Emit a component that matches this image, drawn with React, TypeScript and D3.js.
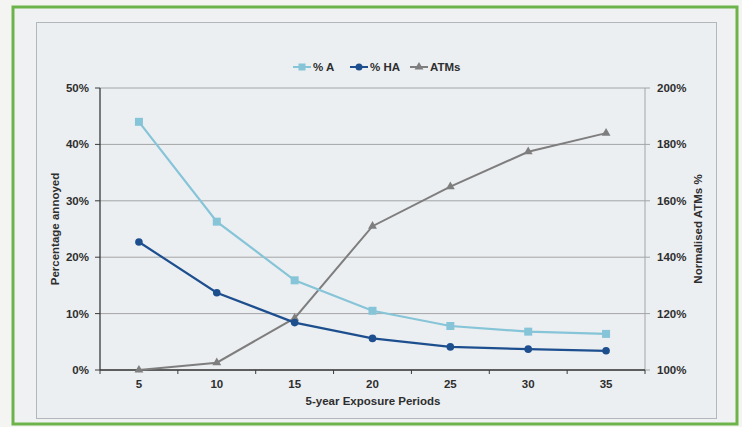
import React from "react";
import * as d3 from "d3";

const periods = ["5", "10", "15", "20", "25", "30", "35"];
const pctA = [44.0, 26.3, 15.9, 10.5, 7.8, 6.8, 6.4];
const pctHA = [22.7, 13.7, 8.4, 5.6, 4.1, 3.7, 3.4];
const atms = [100, 102.6, 118.4, 151, 165, 177.4, 184];
const leftTicks = [0, 10, 20, 30, 40, 50];
const rightTicks = [100, 120, 140, 160, 180, 200];
const seriesNames = ["% A", "% HA", "ATMs"];

const W = 742, H = 427;
const plot = { left: 100, right: 645, top: 88, bottom: 370 };
const colA = "#86c4d8", colHA = "#1d4f8f", colATM = "#7e7e7e";
const font = "'Liberation Sans', Arial, sans-serif";
const fs = 11.5;
const txt = "#2e2e2e";

export default function App() {
  const x = d3.scaleBand().domain(periods).range([plot.left, plot.right]);
  const cx = (p: string) => (x(p) as number) + x.bandwidth() / 2;
  const yL = d3.scaleLinear().domain([0, 50]).range([plot.bottom, plot.top]);
  const yR = d3.scaleLinear().domain([100, 200]).range([plot.bottom, plot.top]);
  const lineL = d3.line<number>().x((_, i) => cx(periods[i])).y((d) => yL(d));
  const lineR = d3.line<number>().x((_, i) => cx(periods[i])).y((d) => yR(d));
  const tri = d3.symbol(d3.symbolTriangle, 34)() as string;
  const boundaries = periods.map((p) => x(p) as number).concat([plot.right]);

  const legendItems = [
    { name: seriesNames[0], color: colA, kind: "sq", x: 293 },
    { name: seriesNames[1], color: colHA, kind: "ci", x: 350 },
    { name: seriesNames[2], color: colATM, kind: "tr", x: 410 },
  ];

  return (
    <div style={{ position: "absolute", left: 0, top: 0 }}>
      <svg width={W} height={H} style={{ display: "block", fontFamily: font }}>
        <rect x={0} y={0} width={W} height={H} fill="#f4f5f3" />
        <rect x={13} y={7} width={724} height={417} fill="#eff1f2" stroke="#6cb449" strokeWidth={3} />
        <rect x={36.5} y={22.5} width={680} height={396} fill="#eceff2" stroke="#b3b6ba" strokeWidth={1} />
        {/* gridlines */}
        {leftTicks.map((t) => (
          <line key={t} x1={plot.left} x2={plot.right} y1={yL(t)} y2={yL(t)} stroke="#a4a4a6" strokeWidth={1} />
        ))}
        <line x1={plot.right} x2={plot.right} y1={plot.top} y2={plot.bottom} stroke="#a4a4a6" />
        {/* left axis */}
        <line x1={plot.left} x2={plot.left} y1={plot.top} y2={plot.bottom} stroke="#3a3a3a" strokeWidth={1.3} />
        {leftTicks.map((t) => (
          <g key={t}>
            <line x1={plot.left - 5} x2={plot.left} y1={yL(t)} y2={yL(t)} stroke="#3a3a3a" />
            <text x={plot.left - 11} y={yL(t)} dy="0.35em" textAnchor="end" fontSize={fs} fontWeight="bold" fill={txt}>{t}%</text>
          </g>
        ))}
        {rightTicks.map((t) => (
          <g key={t}>
            <line x1={plot.right} x2={plot.right + 5} y1={yR(t)} y2={yR(t)} stroke="#a4a4a6" />
            <text x={plot.right + 12} y={yR(t)} dy="0.35em" textAnchor="start" fontSize={fs} fontWeight="bold" fill={txt}>{t}%</text>
          </g>
        ))}
        {/* x axis */}
        <line x1={plot.left} x2={plot.right} y1={plot.bottom} y2={plot.bottom} stroke="#3a3a3a" strokeWidth={1.3} />
        {boundaries.map((b, i) => (
          <line key={i} x1={b} x2={b} y1={plot.bottom} y2={plot.bottom + 4} stroke="#3a3a3a" />
        ))}
        {periods.map((p) => (
          <text key={p} x={cx(p)} y={384} dy="0.35em" textAnchor="middle" fontSize={fs} fontWeight="bold" fill={txt}>{p}</text>
        ))}
        <text x={373} y={401} dy="0.35em" textAnchor="middle" fontSize={fs} fontWeight="bold" fill={txt}>5-year Exposure Periods</text>
        <text transform={`translate(55,${(plot.top + plot.bottom) / 2}) rotate(-90)`} dy="0.35em" textAnchor="middle" fontSize={fs} fontWeight="bold" fill={txt}>Percentage annoyed</text>
        <text transform={`translate(698,${(plot.top + plot.bottom) / 2}) rotate(-90)`} dy="0.35em" textAnchor="middle" fontSize={fs} fontWeight="bold" fill={txt}>Normalised ATMs %</text>
        {/* series */}
        <path d={lineR(atms) as string} fill="none" stroke={colATM} strokeWidth={2} />
        {atms.map((v, i) => (
          <path key={i} d={tri} transform={`translate(${cx(periods[i])},${yR(v)})`} fill={colATM} />
        ))}
        <path d={lineL(pctA) as string} fill="none" stroke={colA} strokeWidth={2.2} />
        {pctA.map((v, i) => (
          <rect key={i} x={cx(periods[i]) - 4} y={yL(v) - 4} width={8} height={8} fill={colA} />
        ))}
        <path d={lineL(pctHA) as string} fill="none" stroke={colHA} strokeWidth={2.2} />
        {pctHA.map((v, i) => (
          <circle key={i} cx={cx(periods[i])} cy={yL(v)} r={3.8} fill={colHA} />
        ))}
        {/* legend */}
        {legendItems.map((it) => (
          <g key={it.name} transform={`translate(${it.x},67)`}>
            <line x1={0} x2={18} y1={0} y2={0} stroke={it.color} strokeWidth={2} />
            {it.kind === "sq" && <rect x={5.5} y={-3.5} width={7} height={7} fill={it.color} />}
            {it.kind === "ci" && <circle cx={9} cy={0} r={3.5} fill={it.color} />}
            {it.kind === "tr" && <path d={tri} transform="translate(9,0)" fill={it.color} />}
            <text x={20} y={0} dy="0.35em" fontSize={fs} fontWeight="bold" fill={txt}>{it.name}</text>
          </g>
        ))}
      </svg>
    </div>
  );
}
